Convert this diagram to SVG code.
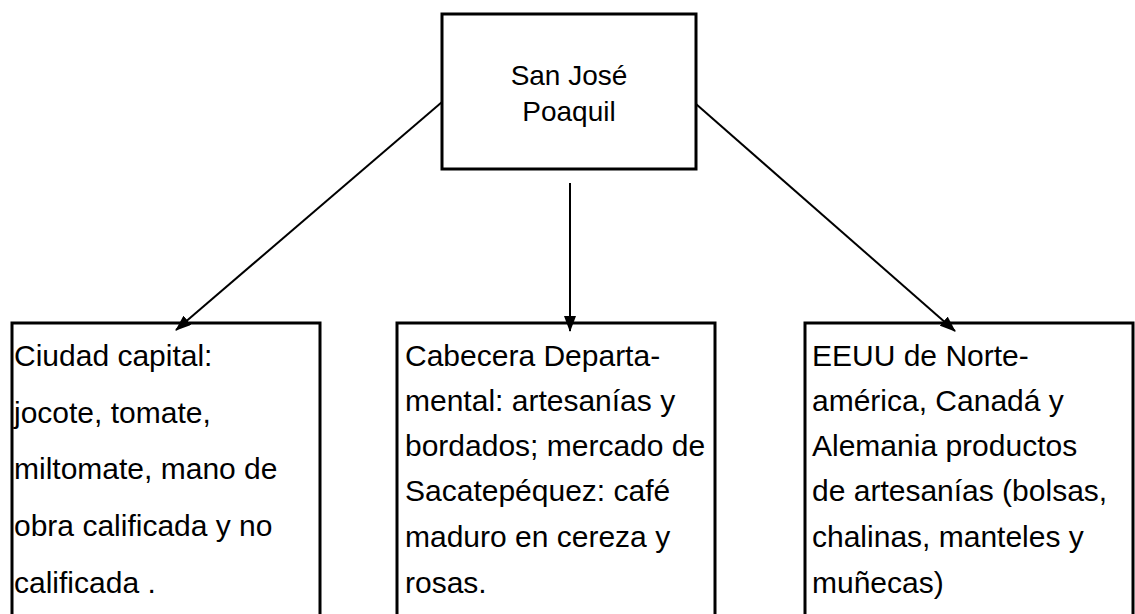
<svg xmlns="http://www.w3.org/2000/svg" width="1135" height="614" viewBox="0 0 1135 614">
<style>
.box{fill:#fff;stroke:#000;stroke-width:3}
.t{font-family:"Liberation Sans",Arial,sans-serif;fill:#000}
.top{font-size:28px;text-anchor:middle}
.b{font-size:30px}
.c{stroke:#000;stroke-width:2;fill:none}
</style>
<defs>
<marker id="ah" viewBox="0 0 16 12" refX="15" refY="6" markerWidth="16" markerHeight="12" markerUnits="userSpaceOnUse" orient="auto">
<path d="M0,0 L16,6 L0,12 Z" fill="#000"/>
</marker>
</defs>
<g id="n0">
<rect class="box" x="442" y="14" width="254" height="155"/>
<text class="t top" x="569" y="85">San José</text>
<text class="t top" x="569" y="121">Poaquil</text>
</g>
<g id="n1">
<rect class="box" x="12" y="323" width="308" height="300"/>
<text class="t b"><tspan x="14" y="366">Ciudad capital:</tspan><tspan x="14" y="423">jocote, tomate,</tspan><tspan x="14" y="479">miltomate, mano de</tspan><tspan x="14" y="536">obra calificada y no</tspan><tspan x="14" y="593">calificada .</tspan></text>
</g>
<g id="n2">
<rect class="box" x="397" y="323" width="318" height="300"/>
<text class="t b"><tspan x="405" y="366">Cabecera Departa-</tspan><tspan x="405" y="411">mental: artesanías y</tspan><tspan x="405" y="456">bordados; mercado de</tspan><tspan x="405" y="501">Sacatepéquez: café</tspan><tspan x="405" y="547">maduro en cereza y</tspan><tspan x="405" y="593">rosas.</tspan></text>
</g>
<g id="n3">
<rect class="box" x="805" y="323" width="328" height="300"/>
<text class="t b"><tspan x="812" y="366">EEUU de Norte-</tspan><tspan x="812" y="411">américa, Canadá y</tspan><tspan x="812" y="456">Alemania productos</tspan><tspan x="812" y="501">de artesanías (bolsas,</tspan><tspan x="812" y="547">chalinas, manteles y</tspan><tspan x="812" y="593">muñecas)</tspan></text>
</g>
<g id="connectors">
<line class="c" x1="442" y1="102" x2="176" y2="330" marker-end="url(#ah)"/>
<line class="c" x1="570" y1="183" x2="570" y2="331" marker-end="url(#ah)"/>
<line class="c" x1="696" y1="104" x2="955" y2="331" marker-end="url(#ah)"/>
</g>
</svg>
